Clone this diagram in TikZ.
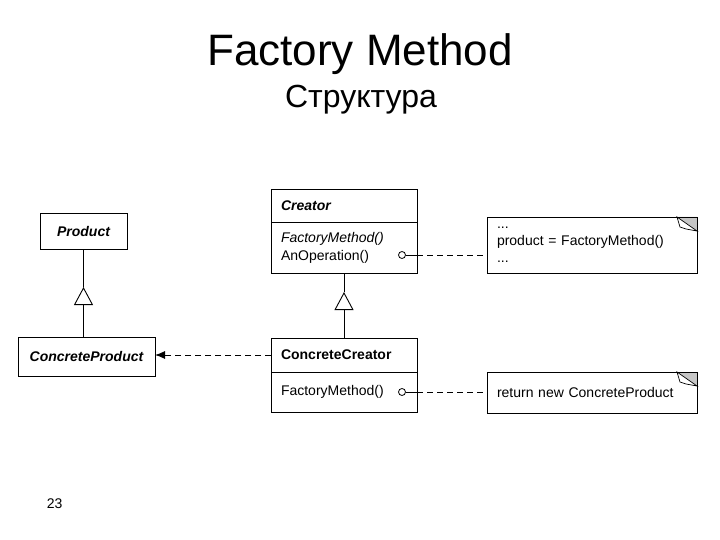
\documentclass[tikz,border=0pt]{standalone}
\usepackage{fontspec}
\setmainfont{Liberation Sans}
\usetikzlibrary{arrows.meta,positioning,calc}

\begin{document}
\begin{tikzpicture}[>=Latex, x=1pt, y=-1pt, line width=0.9pt,
    every node/.style={font=\fontsize{14}{18}\selectfont},
    classbox/.style={draw, outer sep=0pt, inner sep=0pt, align=center,
        font=\fontsize{14}{18}\selectfont\bfseries\itshape},
    classpart/.style={draw, outer sep=0pt, text width=126pt, inner xsep=10pt,
        inner ysep=0pt, align=left},
    notebox/.style={draw, outer sep=0pt, text width=190pt, inner xsep=10pt,
        inner ysep=0pt, align=left, anchor=north west},
    lolli/.style={circle, draw, inner sep=0pt, minimum size=7pt, line width=0.8pt},
    depline/.style={dash pattern=on 6pt off 4pt},
    inherits/.style={-{Triangle[open, length=18pt, width=19pt]}},
    creates/.style={depline, -{Latex[length=10pt, width=8pt]}}]
\useasboundingbox (0,0) rectangle (720,540);

% titles
\node[font=\fontsize{44}{50}\selectfont, anchor=base] (title) at (360,66) {Factory Method};
\node[font=\fontsize{32}{36}\selectfont, anchor=base] (subtitle) at (361,108) {Структура};
\node[anchor=base west] (pagenum) at (43,508) {23};

% product side
\node[classbox, minimum width=87pt, minimum height=36pt] (product) at (83.5,231) {Product};
\node[classbox, minimum width=137pt, minimum height=39pt] (cprod) at (86.5,356.5) {ConcreteProduct};

% creator side
\node[classpart, minimum height=33pt, anchor=north west,
    font=\fontsize{14}{18}\selectfont\bfseries\itshape] (creator) at (271,189) {Creator};
\node[classpart, minimum height=51pt, below=0pt of creator] (creatorops)
    {\textit{FactoryMethod()}\\AnOperation()};
\node[classpart, minimum height=34pt, anchor=north west,
    font=\fontsize{14}{18}\selectfont\bfseries] (ccreator) at (271,338) {ConcreteCreator};
\node[classpart, minimum height=40pt, below=0pt of ccreator] (ccreatorops) {FactoryMethod()};

% notes
\node[notebox, minimum height=56pt, font=\fontsize{14}{17}\selectfont] (note1) at (487,217)
    {...\\product = FactoryMethod()\\...};
\node[notebox, minimum height=41pt] (note2) at (487,372) {return new ConcreteProduct};
\foreach \n in {note1,note2} {
    \fill[gray!45] ([xshift=-20pt]\n.north east) -- (\n.north east) -- ([yshift=-14pt]\n.north east) -- cycle;
    \draw[line width=0.7pt, fill=white] ([xshift=-20pt]\n.north east) -- ([xshift=-17pt,yshift=-10pt]\n.north east)
        -- ([xshift=-11pt,yshift=-12pt]\n.north east) -- ([yshift=-14pt]\n.north east) -- cycle;
    \draw ([xshift=-20pt]\n.north east) -- (\n.north east) -- ([yshift=-14pt]\n.north east);
}

% generalisation
\coordinate (ptip) at (product.south |- 0,287);
\draw[inherits] (ptip |- cprod.north) -- (ptip);
\draw (ptip) -- (product.south);
\coordinate (ctip) at (creatorops.south |- 0,292);
\draw[inherits] (ccreator.north) -- (ctip);
\draw (ctip) -- (creatorops.south);

% creation
\draw[creates] (ccreator.west) -- (ccreator.west -| cprod.east);

% note links
\node[lolli] (opdot) at (402,255) {};
\coordinate (opedge) at (opdot -| creatorops.east);
\draw (opdot) -- (opedge);
\draw[depline] (opedge) -- (opedge -| note1.west);
\node[lolli] (fmdot) at (402,392) {};
\coordinate (fmedge) at (fmdot -| ccreatorops.east);
\draw (fmdot) -- (fmedge);
\draw[depline] (fmedge) -- (fmedge -| note2.west);
\end{tikzpicture}
\end{document}
